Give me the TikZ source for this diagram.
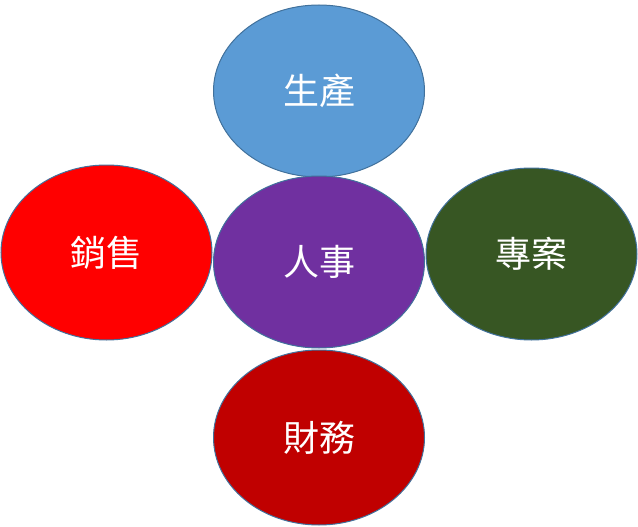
\documentclass[tikz,border=0pt]{standalone}
\usepackage{fontspec}
\usetikzlibrary{shapes.geometric}
\newfontfamily\cjk{Noto Sans CJK TC}
\definecolor{edge}{HTML}{41719C}
\definecolor{cblue}{HTML}{5B9BD5}
\definecolor{cpurple}{HTML}{7030A0}
\definecolor{cred}{HTML}{FF0000}
\definecolor{cgreen}{HTML}{375623}
\definecolor{cdred}{HTML}{C00000}
\begin{document}
\begin{tikzpicture}[x=1pt,y=-1pt,
  blob/.style={ellipse, draw=edge, line width=1pt, minimum width=211pt, minimum height=172pt, inner sep=0pt, text=white, font=\cjk\fontsize{36}{36}\selectfont}]
\useasboundingbox (0,0) rectangle (638,527);
\node[blob, fill=cblue] (top) at (319,91) {生產};
\node[blob, fill=cred, minimum height=175pt] (left) at (106.5,252.5) {銷售};
\node[blob, fill=cgreen] (right) at (531.5,254) {專案};
\node[blob, fill=cpurple] (center) at (319,262) {人事};
\node[blob, fill=cdred, minimum height=175pt] (bottom) at (319,437.5) {財務};
\end{tikzpicture}
\end{document}
